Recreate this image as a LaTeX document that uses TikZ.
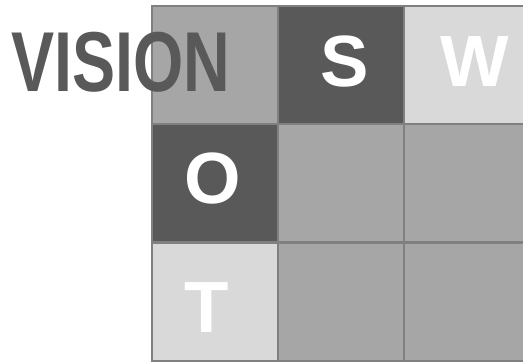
\documentclass[tikz,border=0pt]{standalone}
\usepackage{fontspec}
\setmainfont{Liberation Sans}
\definecolor{cmid}{HTML}{A6A6A6}
\definecolor{cdark}{HTML}{595959}
\definecolor{clight}{HTML}{D9D9D9}
\definecolor{cline}{HTML}{808080}
\begin{document}
\begin{tikzpicture}[x=1pt,y=-1pt,
  cell/.style={draw=cline, line width=2pt, rectangle, inner sep=0pt, outer sep=0pt,
    minimum width=126pt, minimum height=118pt, anchor=north west},
  letter/.style={text=white, font=\fontsize{72.6}{80}\selectfont\bfseries, inner sep=0pt},
  title/.style={text=cdark, font=\fontsize{85}{90}\selectfont\bfseries, inner sep=0pt}]
\useasboundingbox (0,0) rectangle (523,364);
\node[cell, fill=cmid]   (c11) at (152,6) {};
\node[cell, fill=cdark]  (c12) at (278,6) {};
\node[cell, fill=clight] (c13) at (404,6) {};
\node[cell, fill=cdark]  (c21) at (152,124) {};
\node[cell, fill=cmid]   (c22) at (278,124) {};
\node[cell, fill=cmid]   (c23) at (404,124) {};
\node[cell, fill=clight] (c31) at (152,243) {};
\node[cell, fill=cmid]   (c32) at (278,243) {};
\node[cell, fill=cmid]   (c33) at (404,243) {};
\node[letter] (S) at (345,62) {S};
\node[letter] (W) at (475,62) {W};
\node[letter] (O) at (213,179) {O};
\node[letter] (T) at (206.5,308) {T};
\node[title] (vision) at (120.5,62.5) {\scalebox{0.76}[1]{VISION}};
\end{tikzpicture}
\end{document}
